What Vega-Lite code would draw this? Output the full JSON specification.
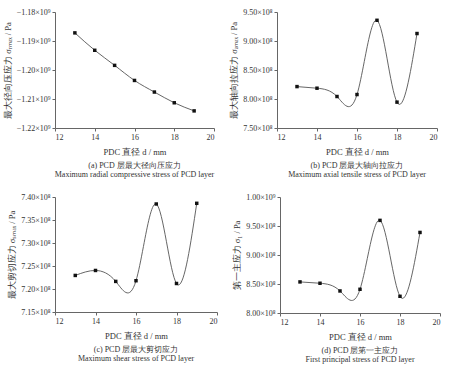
{
  "$schema": "https://vega.github.io/schema/vega-lite/v6.json",
  "padding": {"left": 3, "top": 8, "right": 5, "bottom": 5},
  "background": "white",
  "datasets": {
    "a": [
      {"d": 13, "s": -1.1872e9}, {"d": 14, "s": -1.1932e9}, {"d": 15, "s": -1.1984e9},
      {"d": 16, "s": -1.2036e9}, {"d": 17, "s": -1.2076e9}, {"d": 18, "s": -1.2113e9},
      {"d": 19, "s": -1.2141e9}
    ],
    "b": [
      {"d": 13, "s": 8.214e8}, {"d": 14, "s": 8.186e8}, {"d": 15, "s": 8.043e8},
      {"d": 16, "s": 8.077e8}, {"d": 17, "s": 9.357e8}, {"d": 18, "s": 7.946e8},
      {"d": 19, "s": 9.129e8}
    ],
    "c": [
      {"d": 13, "s": 7.2295e8}, {"d": 14, "s": 7.2403e8}, {"d": 15, "s": 7.2165e8},
      {"d": 16, "s": 7.218e8}, {"d": 17, "s": 7.3848e8}, {"d": 18, "s": 7.212e8},
      {"d": 19, "s": 7.3863e8}
    ],
    "e": [
      {"d": 13, "s": 8.536e8}, {"d": 14, "s": 8.513e8}, {"d": 15, "s": 8.38e8},
      {"d": 16, "s": 8.409e8}, {"d": 17, "s": 9.597e8}, {"d": 18, "s": 8.288e8},
      {"d": 19, "s": 9.389e8}
    ]
  },
  "config": {
    "font": "Liberation Serif",
    "view": {"stroke": null},
    "axis": {
      "grid": false, "domainColor": "#666", "tickColor": "#666", "tickSize": 3,
      "labelColor": "#333", "titleColor": "#333", "labelFontSize": 8, "titleFontSize": 8.5,
      "titleFontWeight": "normal", "labelFont": "Liberation Serif", "titleFont": "Liberation Serif"
    },
    "title": {"orient": "bottom", "fontSize": 8, "fontWeight": "normal", "color": "#333", "lineHeight": 9.5, "offset": 6, "font": "Liberation Serif"},
    "concat": {"spacing": 14}
  },
  "vconcat": [
    {
      "hconcat": [
        {
          "width": 159, "height": 116,
          "title": {"text": ["(a) PCD 层最大径向压应力", "Maximum radial compressive stress of PCD layer"]},
          "data": {"name": "a"},
          "encoding": {
            "x": {"field": "d", "type": "quantitative", "scale": {"domain": [12, 20]}, "axis": {"values": [12, 14, 16, 18, 20], "title": "PDC 直径 d / mm", "titlePadding": 6}},
            "y": {"field": "s", "type": "quantitative", "scale": {"domain": [-1.22e9, -1.18e9], "zero": false}, "axis": {"values": [-1.22e9, -1.21e9, -1.2e9, -1.19e9, -1.18e9], "labelExpr": "replace(format(datum.value/1e9,'.2f'),'-','−') + '×10⁹'", "title": "最大径向压应力 σᵣₘₐₓ / Pa", "titlePadding": 4}}
          },
          "layer": [
            {"mark": {"type": "line", "interpolate": "natural", "color": "#555", "strokeWidth": 0.9}},
            {"mark": {"type": "point", "shape": "square", "filled": true, "color": "#111", "size": 12, "opacity": 1}}
          ]
        },
        {
          "width": 160, "height": 116,
          "title": {"text": ["(b) PCD 层最大轴向拉应力", "Maximum axial tensile stress of PCD layer"]},
          "data": {"name": "b"},
          "encoding": {
            "x": {"field": "d", "type": "quantitative", "scale": {"domain": [12, 20]}, "axis": {"values": [12, 14, 16, 18, 20], "title": "PDC 直径 d / mm", "titlePadding": 6}},
            "y": {"field": "s", "type": "quantitative", "scale": {"domain": [7.5e8, 9.5e8], "zero": false}, "axis": {"values": [7.5e8, 8e8, 8.5e8, 9e8, 9.5e8], "labelExpr": "format(datum.value/1e8,'.2f') + '×10⁸'", "title": "最大轴向拉应力 σₐₘₐₓ / Pa", "titlePadding": 4}}
          },
          "layer": [
            {"mark": {"type": "line", "interpolate": "natural", "color": "#555", "strokeWidth": 0.9}},
            {"mark": {"type": "point", "shape": "square", "filled": true, "color": "#111", "size": 12, "opacity": 1}}
          ]
        }
      ]
    },
    {
      "hconcat": [
        {
          "width": 162, "height": 115,
          "title": {"text": ["(c) PCD 层最大剪切应力", "Maximum shear stress of PCD layer"]},
          "data": {"name": "c"},
          "encoding": {
            "x": {"field": "d", "type": "quantitative", "scale": {"domain": [12, 20]}, "axis": {"values": [12, 14, 16, 18, 20], "title": "PDC 直径 d / mm", "titlePadding": 6}},
            "y": {"field": "s", "type": "quantitative", "scale": {"domain": [7.15e8, 7.4e8], "zero": false}, "axis": {"values": [7.15e8, 7.2e8, 7.25e8, 7.3e8, 7.35e8, 7.4e8], "labelExpr": "format(datum.value/1e8,'.2f') + '×10⁸'", "title": "最大剪切应力 σₛₘₐₓ / Pa", "titlePadding": 4}}
          },
          "layer": [
            {"mark": {"type": "line", "interpolate": "natural", "color": "#555", "strokeWidth": 0.9}},
            {"mark": {"type": "point", "shape": "square", "filled": true, "color": "#111", "size": 12, "opacity": 1}}
          ]
        },
        {
          "width": 160, "height": 116,
          "title": {"text": ["(d) PCD 层第一主应力", "First principal stress of PCD layer"]},
          "data": {"name": "e"},
          "encoding": {
            "x": {"field": "d", "type": "quantitative", "scale": {"domain": [12, 20]}, "axis": {"values": [12, 14, 16, 18, 20], "title": "PDC 直径 d / mm", "titlePadding": 6}},
            "y": {"field": "s", "type": "quantitative", "scale": {"domain": [8e8, 1e9], "zero": false}, "axis": {"values": [8e8, 8.5e8, 9e8, 9.5e8, 1e9], "labelExpr": "datum.value >= 1e9 ? format(datum.value/1e9,'.2f') + '×10⁹' : format(datum.value/1e8,'.2f') + '×10⁸'", "title": "第一主应力 σ₁ / Pa", "titlePadding": 4}}
          },
          "layer": [
            {"mark": {"type": "line", "interpolate": "natural", "color": "#555", "strokeWidth": 0.9}},
            {"mark": {"type": "point", "shape": "square", "filled": true, "color": "#111", "size": 12, "opacity": 1}}
          ]
        }
      ]
    }
  ]
}
